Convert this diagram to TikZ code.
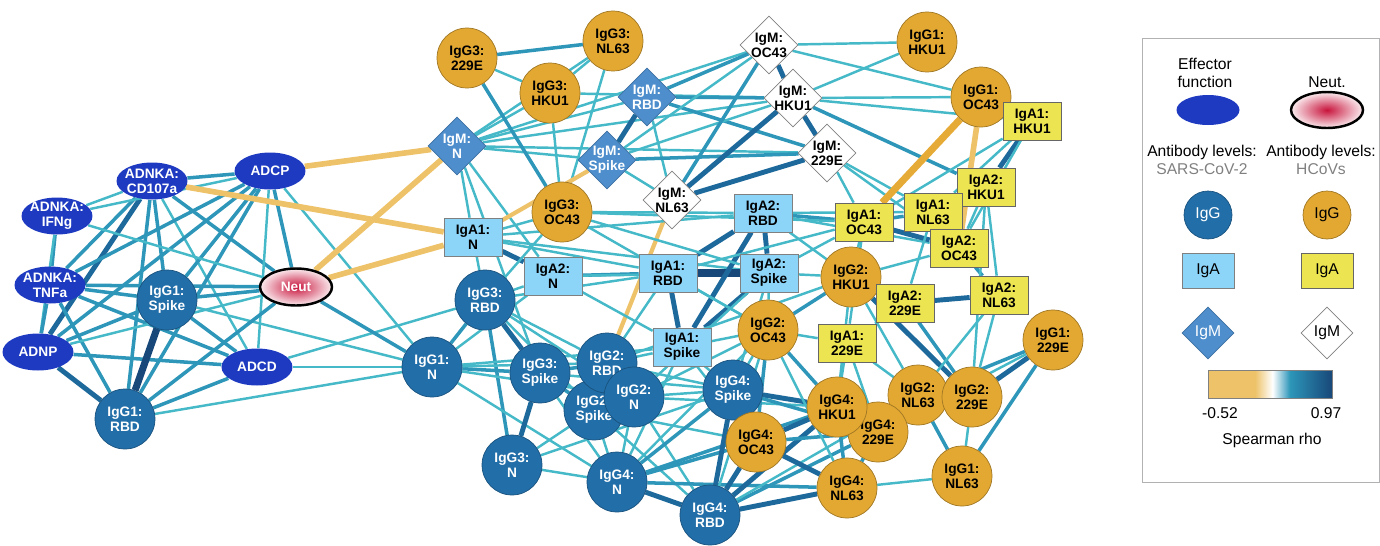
\documentclass[tikz,border=0pt]{standalone}
\usepackage{fontspec}
\setmainfont{Liberation Sans}
\usepackage{xcolor}
\definecolor{effblue}{RGB}{30,58,192}
\definecolor{sarsG}{RGB}{34,110,168}
\definecolor{sarsA}{RGB}{140,212,248}
\definecolor{sarsM}{RGB}{78,142,204}
\definecolor{hcovG}{RGB}{227,168,50}
\definecolor{hcovA}{RGB}{236,228,80}
\definecolor{neutred}{RGB}{200,20,60}
\definecolor{tealA}{RGB}{70,185,200}
\definecolor{tealB}{RGB}{45,150,185}
\definecolor{tealC}{RGB}{30,105,155}
\definecolor{tealD}{RGB}{24,72,122}
\definecolor{negA}{RGB}{237,194,105}
\definecolor{negB}{RGB}{230,170,55}
\usepackage{tikz}
\usetikzlibrary{
    shapes.geometric,
    arrows.meta,
    positioning,
    backgrounds
}
\pgfdeclarehorizontalshading{rhobar}{100bp}{color(0bp)=(negA); color(25bp)=(negA); color(44bp)=(negA); color(51bp)=(white); color(58bp)=(tealB); color(75bp)=(tealD); color(100bp)=(tealD)}

\begin{document}
\begin{tikzpicture}[x=0.02cm, y=-0.02cm,
        lbl/.style={font=\bfseries\fontsize{7.8}{8.6}\selectfont, align=center},
        eff/.style={lbl, ellipse, fill=effblue, text=white, inner sep=-2pt, minimum width=1.42cm, minimum height=0.74cm},
        neutn/.style={lbl, ellipse, draw=black, line width=1.4pt, inner color=neutred, outer color=neutred!8, text=white, inner sep=-2pt, minimum width=1.44cm, minimum height=0.74cm},
        sg/.style={lbl, circle, fill=sarsG, draw=sarsG!75!black, text=white, inner sep=0pt, minimum size=1.2cm},
        hg/.style={lbl, circle, fill=hcovG, draw=hcovG!70!black, inner sep=0pt, minimum size=1.2cm},
        sa/.style={lbl, rectangle, fill=sarsA, draw=gray, inner sep=1pt, minimum width=1.16cm, minimum height=0.76cm},
        ha/.style={lbl, rectangle, fill=hcovA, draw=gray!80!black, inner sep=1pt, minimum width=1.16cm, minimum height=0.76cm},
        sm/.style={lbl, diamond, aspect=1, fill=sarsM, draw=sarsM!80!black, text=white, inner sep=-1.2pt, minimum size=1.16cm},
        hm/.style={lbl, diamond, aspect=1, fill=white, draw=gray, inner sep=-1.2pt, minimum size=1.16cm},
        leg/.style={font=\fontsize{8.9}{10.2}\selectfont, align=center},
        ta/.style={line width=1.4pt, tealA},
        tb/.style={line width=2pt, tealB},
        tc/.style={line width=2.8pt, tealC},
        td/.style={line width=4pt, tealD},
        ng/.style={line width=3.2pt, negA},
        nh/.style={line width=4pt, negB}
    ]
        \useasboundingbox (0,0) rectangle (1380,545);

        % effector functions
        \node[eff] (cd107a) at (152,181) {ADNKA:\\CD107a};
        \node[eff] (adcp) at (270,171) {ADCP};
        \node[eff] (ifng) at (57,216) {ADNKA:\\IFNg};
        \node[eff] (tnfa) at (50,285) {ADNKA:\\TNFa};
        \node[eff] (adnp) at (38,352) {ADNP};
        \node[eff] (adcd) at (257,367) {ADCD};
        \node[neutn] (neut) at (296,287) {Neut};

        % SARS-CoV-2 antibodies
        \node[sg] (g1spike) at (167,300) {IgG1:\\Spike};
        \node[sg] (g1rbd) at (125,419) {IgG1:\\RBD};
        \node[sg] (g1n) at (432,367) {IgG1:\\N};
        \node[sg] (g3rbd) at (485,300) {IgG3:\\RBD};
        \node[sg] (g3spike) at (540,373) {IgG3:\\Spike};
        \node[sg] (g3n) at (512,465) {IgG3:\\N};
        \node[sg] (g2spike) at (594,410) {IgG2:\\Spike};
        \node[sg] (g2rbd) at (607,363) {IgG2:\\RBD};
        \node[sg] (g2n) at (634,397) {IgG2:\\N};
        \node[sg] (g4spike) at (733,390) {IgG4:\\Spike};
        \node[sg] (g4n) at (617,482) {IgG4:\\N};
        \node[sg] (g4rbd) at (710,515) {IgG4:\\RBD};
        \node[sa] (a1n) at (473,237) {IgA1:\\N};
        \node[sa] (a2n) at (553,276) {IgA2:\\N};
        \node[sa] (a1rbd) at (668,273) {IgA1:\\RBD};
        \node[sa] (a2rbd) at (763,213) {IgA2:\\RBD};
        \node[sa] (a2spike) at (769,273) {IgA2:\\Spike};
        \node[sa] (a1spike) at (682,347) {IgA1:\\Spike};
        \node[sm] (mn) at (457,146) {IgM:\\N};
        \node[sm] (mrbd) at (647,97) {IgM:\\RBD};
        \node[sm] (mspike) at (607,160) {IgM:\\Spike};

        % HCoV antibodies
        \node[hg] (g3-229e) at (467,58) {IgG3:\\229E};
        \node[hg] (g3nl63) at (613,41) {IgG3:\\NL63};
        \node[hg] (g3hku1) at (550,93) {IgG3:\\HKU1};
        \node[hg] (g3oc43) at (562,212) {IgG3:\\OC43};
        \node[hg] (g1hku1) at (927,42) {IgG1:\\HKU1};
        \node[hg] (g1oc43) at (981,97) {IgG1:\\OC43};
        \node[hg] (g2hku1) at (851,277) {IgG2:\\HKU1};
        \node[hg] (g2oc43) at (768,330) {IgG2:\\OC43};
        \node[hg] (g1-229e) at (1053,340) {IgG1:\\229E};
        \node[hg] (g2nl63) at (918,395) {IgG2:\\NL63};
        \node[hg] (g2-229e) at (972,397) {IgG2:\\229E};
        \node[hg] (g4-229e) at (878,432) {IgG4:\\229E};
        \node[hg] (g4hku1) at (837,407) {IgG4:\\HKU1};
        \node[hg] (g4nl63) at (847,488) {IgG4:\\NL63};
        \node[hg] (g1nl63) at (962,476) {IgG1:\\NL63};
        \node[hg] (g4oc43) at (756,442) {IgG4:\\OC43};
        \node[ha] (a1hku1) at (1032,121) {IgA1:\\HKU1};
        \node[ha] (a2hku1) at (986,187) {IgA2:\\HKU1};
        \node[ha] (a1nl63) at (933,212) {IgA1:\\NL63};
        \node[ha] (a1oc43) at (864,222) {IgA1:\\OC43};
        \node[ha] (a2oc43) at (959,248) {IgA2:\\OC43};
        \node[ha] (a2-229e) at (905,303) {IgA2:\\229E};
        \node[ha] (a2nl63) at (999,295) {IgA2:\\NL63};
        \node[ha] (a1-229e) at (847,343) {IgA1:\\229E};
        \node[hm] (moc43) at (769,45) {IgM:\\OC43};
        \node[hm] (mhku1) at (793,98) {IgM:\\HKU1};
        \node[hm] (m229e) at (827,153) {IgM:\\229E};
        \node[hm] (mnl63) at (672,200) {IgM:\\NL63};

        % legend
        \node[draw=gray!60, minimum width=4.74cm, minimum height=8.88cm] (legbox) at (1260.5,260) {};
        \node[leg] (leffect) at (1205,73) {Effector\\function};
        \node[leg] (lneuttxt) at (1327,82) {Neut.};
        \node[ellipse, fill=effblue, minimum width=1.26cm, minimum height=0.6cm] (leff) at (1208,110) {};
        \node[ellipse, draw=black, line width=1.4pt, inner color=neutred, outer color=neutred!8, minimum width=1.44cm, minimum height=0.72cm] (lneut) at (1327,110) {};
        \node[leg] (lsars) at (1202,160) {Antibody levels:\\\textcolor{gray}{SARS-CoV-2}};
        \node[leg] (lhcov) at (1321,160) {Antibody levels:\\\textcolor{gray}{HCoVs}};
        \node[leg, circle, fill=sarsG, draw=sarsG!75!black, text=white, minimum size=0.96cm, inner sep=0pt] (lsg) at (1208,215) {IgG};
        \node[leg, circle, fill=hcovG, draw=hcovG!70!black, minimum size=0.96cm, inner sep=0pt] (lhg) at (1327,215) {IgG};
        \node[leg, fill=sarsA, draw=gray, minimum width=1.04cm, minimum height=0.7cm] (lsa) at (1208,271) {IgA};
        \node[leg, fill=hcovA, draw=gray!80!black, minimum width=1.04cm, minimum height=0.7cm] (lha) at (1327,271) {IgA};
        \node[leg, diamond, aspect=1, fill=sarsM, draw=sarsM!80!black, text=white, minimum size=1.04cm, inner sep=0pt] (lsm) at (1208,333) {IgM};
        \node[leg, diamond, aspect=1, fill=white, draw=gray, minimum size=1.04cm, inner sep=0pt] (lhm) at (1327,333) {IgM};
        \node[draw=gray, shading=rhobar, minimum width=2.48cm, minimum height=0.56cm, inner sep=0pt] (cbar) at (1270,384) {};
        \node[leg] (lmin) at (1220,413) {-0.52};
        \node[leg] (lmax) at (1326,413) {0.97};
        \node[leg] (lrho) at (1272,440) {Spearman rho};

        \begin{scope}[on background layer]
        % effector cluster
        \draw[tb] (cd107a) -- (adcp);
        \draw[ta] (cd107a) -- (ifng);
        \draw[tb] (cd107a) -- (tnfa);
        \draw[tc] (cd107a) -- (adnp);
        \draw[tb] (cd107a) -- (g1spike);
        \draw[tb] (cd107a) -- (g1rbd);
        \draw[tb] (cd107a) -- (neut);
        \draw[ta] (cd107a) -- (adcd);
        \draw[ta] (adcp) -- (ifng);
        \draw[tb] (adcp) -- (tnfa);
        \draw[tb] (adcp) -- (adnp);
        \draw[tb] (adcp) -- (g1spike);
        \draw[tb] (adcp) -- (g1rbd);
        \draw[ta] (adcp) -- (adcd);
        \draw[tb] (adcp) -- (neut);
        \draw[ta] (adcp) -- (g1n);
        \draw[tb] (ifng) -- (tnfa);
        \draw[ta] (ifng) -- (neut);
        \draw[ta] (ifng) -- (adnp);
        \draw[tb] (tnfa) -- (neut);
        \draw[tb] (tnfa) -- (g1spike);
        \draw[tb] (tnfa) -- (adnp);
        \draw[tb] (tnfa) -- (g1rbd);
        \draw[tb] (tnfa) -- (adcd);
        \draw[tb] (adnp) -- (g1spike);
        \draw[tc] (adnp) -- (g1rbd);
        \draw[tb] (adnp) -- (adcd);
        \draw[ta] (adnp) -- (neut);
        \draw[td] (g1spike) -- (g1rbd);
        \draw[tb] (g1spike) -- (neut);
        \draw[tb] (g1spike) -- (adcd);
        \draw[ta] (g1spike) -- (g1n);
        \draw[tb] (g1rbd) -- (neut);
        \draw[tb] (g1rbd) -- (adcd);
        \draw[ta] (g1rbd) -- (g1n);
        \draw[ta] (adcd) -- (g3rbd);
        \draw[tb] (neut) -- (g1n);
        \draw[ng] (adcp) -- (mn);
        \draw[ng] (cd107a) -- (a1n);
        \draw[ng] (neut) -- (mn);
        \draw[ng] (neut) -- (a1n);

        % IgM and IgG3
        \draw[ta] (mn) -- (a1n);
        \draw[ta] (mn) -- (a2n);
        \draw[ta] (mn) -- (g3spike);
        \draw[ta] (mn) -- (g3hku1);
        \draw[ta] (mn) -- (g3nl63);
        \draw[ta] (mn) -- (mrbd);
        \draw[ta] (mn) -- (moc43);
        \draw[ta] (mn) -- (mhku1);
        \draw[ta] (mn) -- (m229e);
        \draw[ta] (mn) -- (mspike);
        \draw[tb] (g3-229e) -- (g3nl63);
        \draw[ta] (g3-229e) -- (g3hku1);
        \draw[tb] (g3-229e) -- (g3oc43);
        \draw[ta] (g3nl63) -- (g3hku1);
        \draw[ta] (g3nl63) -- (g3oc43);
        \draw[ta] (g3hku1) -- (g3oc43);
        \draw[ta] (g3hku1) -- (mhku1);
        \draw[tc] (mrbd) -- (mspike);
        \draw[tb] (mrbd) -- (moc43);
        \draw[tb] (mrbd) -- (mhku1);
        \draw[tb] (mrbd) -- (m229e);
        \draw[ta] (mrbd) -- (mnl63);
        \draw[tb] (mspike) -- (m229e);
        \draw[ta] (mspike) -- (mhku1);
        \draw[ta] (mspike) -- (mnl63);
        \draw[ta] (mspike) -- (moc43);
        \draw[ng, line width=2.4pt] (mspike) -- (a1n);
        \draw[tc] (moc43) -- (mhku1);
        \draw[tb] (moc43) -- (mnl63);
        \draw[ta] (moc43) -- (g1hku1);
        \draw[ta] (moc43) -- (g1oc43);
        \draw[tc] (mhku1) -- (mnl63);
        \draw[tc] (mhku1) -- (m229e);
        \draw[ta] (mhku1) -- (g1hku1);
        \draw[ta] (mhku1) -- (g1oc43);
        \draw[ta] (mhku1) -- (a1hku1);
        \draw[tb] (mhku1) -- (a2hku1);
        \draw[tc] (m229e) -- (mnl63);
        \draw[ta] (m229e) -- (a1oc43);
        \draw[ta] (m229e) -- (a1nl63);
        \draw[ta] (m229e) -- (a2oc43);
        \draw[ng, line width=2.4pt] (mnl63) -- (g2rbd);

        % IgA
        \draw[tc] (a1n) -- (a2n);
        \draw[ta] (a1n) -- (g3oc43);
        \draw[ta] (a1n) -- (a1rbd);
        \draw[ta] (a1n) -- (a2rbd);
        \draw[ta] (a1n) -- (a2spike);
        \draw[ta] (a1n) -- (g3rbd);
        \draw[tb] (a2n) -- (a1rbd);
        \draw[ta] (a2n) -- (a2spike);
        \draw[ta] (a2n) -- (g3rbd);
        \draw[ta] (a2n) -- (a1spike);
        \draw[tc] (a1rbd) -- (a2rbd);
        \draw[td] (a1rbd) -- (a2spike);
        \draw[tc] (a1rbd) -- (a1spike);
        \draw[tc] (a2rbd) -- (a2spike);
        \draw[tc] (a2rbd) -- (a1spike);
        \draw[tc] (a2spike) -- (a1spike);
        \draw[tb] (a2rbd) -- (a1oc43);
        \draw[ta] (a2rbd) -- (a1nl63);
        \draw[ta] (a2rbd) -- (a2oc43);
        \draw[ta] (a2rbd) -- (g2hku1);
        \draw[ta] (g3oc43) -- (a2spike);
        \draw[ta] (g3oc43) -- (g2oc43);
        \draw[ta] (g3oc43) -- (a2rbd);
        \draw[ta] (g3oc43) -- (a1oc43);
        \draw[ta] (g3oc43) -- (g3rbd);
        \draw[tc] (a1hku1) -- (a2hku1);
        \draw[tc] (a1oc43) -- (a2oc43);
        \draw[tb] (a1oc43) -- (a1nl63);
        \draw[ta] (a1nl63) -- (a2oc43);
        \draw[ta] (a2hku1) -- (a2oc43);
        \draw[tb] (a2oc43) -- (a2nl63);
        \draw[tc] (a2-229e) -- (a2nl63);
        \draw[ta] (a2-229e) -- (a1-229e);
        \draw[ta] (a2hku1) -- (a2nl63);
        \draw[ta] (a1hku1) -- (a1oc43);
        \draw[ta] (a1hku1) -- (a1nl63);
        \draw[ta] (a1hku1) -- (a2oc43);
        \draw[ta] (a2hku1) -- (g2-229e);
        \draw[nh] (g1oc43) -- (a1oc43);
        \draw[ng] (g1oc43) -- (a2oc43);

        % IgG
        \draw[tc] (g3rbd) -- (g3spike);
        \draw[tb] (g3rbd) -- (g3n);
        \draw[tb] (g3rbd) -- (g1n);
        \draw[ta] (g3rbd) -- (g2rbd);
        \draw[ta] (g3rbd) -- (g2spike);
        \draw[ta] (g3rbd) -- (g2n);
        \draw[ta] (g3rbd) -- (a1rbd);
        \draw[tb] (g1n) -- (g3spike);
        \draw[ta] (g1n) -- (g2rbd);
        \draw[ta] (g1n) -- (g2n);
        \draw[ta] (g1n) -- (a1spike);
        \draw[ta] (g1n) -- (g4n);
        \draw[ta] (g1n) -- (a2n);
        \draw[ta] (g1n) -- (adcd);
        \draw[tc] (g3spike) -- (g3n);
        \draw[tb] (g3spike) -- (g2spike);
        \draw[tb] (g3spike) -- (g2rbd);
        \draw[ta] (g3spike) -- (g4n);
        \draw[ta] (g3spike) -- (g4spike);
        \draw[ta] (g3n) -- (g4n);
        \draw[ta] (g3n) -- (g2spike);
        \draw[ta] (g3n) -- (g4spike);
        \draw[tb] (g2rbd) -- (g2spike);
        \draw[tb] (g2rbd) -- (g2n);
        \draw[ta] (g2rbd) -- (a1spike);
        \draw[ta] (g2rbd) -- (a1rbd);
        \draw[ta] (g2rbd) -- (g4spike);
        \draw[ta] (g2rbd) -- (g2hku1);
        \draw[tb] (g2spike) -- (g2n);
        \draw[ta] (g2spike) -- (g4n);
        \draw[ta] (g2spike) -- (g4rbd);
        \draw[ta] (g2spike) -- (g4oc43);
        \draw[ta] (g2n) -- (g4n);
        \draw[ta] (g2n) -- (g4spike);
        \draw[ta] (g2n) -- (g4rbd);
        \draw[ta] (g2n) -- (a2spike);
        \draw[ta] (g2n) -- (g4hku1);
        \draw[ta] (g2n) -- (g2oc43);
        \draw[tc] (g4n) -- (g4rbd);
        \draw[tb] (g4n) -- (g4spike);
        \draw[tb] (g4n) -- (g4oc43);
        \draw[tb] (g4n) -- (g4hku1);
        \draw[tb] (g4n) -- (g4nl63);
        \draw[ta] (g4n) -- (g2oc43);
        \draw[ta] (g4n) -- (a1spike);
        \draw[tc] (g4rbd) -- (g4spike);
        \draw[tc] (g4rbd) -- (g4oc43);
        \draw[tc] (g4rbd) -- (g4hku1);
        \draw[tc] (g4rbd) -- (g4nl63);
        \draw[tb] (g4rbd) -- (g4-229e);
        \draw[ta] (g4rbd) -- (g2oc43);
        \draw[ta] (g4rbd) -- (g2nl63);
        \draw[tc] (g4spike) -- (g4hku1);
        \draw[tb] (g4spike) -- (g4oc43);
        \draw[tb] (g4spike) -- (g4-229e);
        \draw[ta] (g4spike) -- (a1spike);
        \draw[ta] (g4spike) -- (g2oc43);
        \draw[ta] (g4spike) -- (a2spike);
        \draw[tc] (g4oc43) -- (g4hku1);
        \draw[tc] (g4oc43) -- (g4nl63);
        \draw[tb] (g4oc43) -- (g4-229e);
        \draw[tb] (g4hku1) -- (g4nl63);
        \draw[tb] (g4hku1) -- (g4-229e);
        \draw[tb] (g4-229e) -- (g4nl63);
        \draw[ta] (g4nl63) -- (g1nl63);
        \draw[tb] (g2nl63) -- (g2-229e);
        \draw[tb] (g2nl63) -- (g1nl63);
        \draw[ta] (g2-229e) -- (g1nl63);
        \draw[tc] (g2-229e) -- (g1-229e);
        \draw[tb] (g1-229e) -- (g1nl63);
        \draw[tb] (g1-229e) -- (g2nl63);
        \draw[ta] (g1-229e) -- (g4-229e);
        \draw[tb] (g2hku1) -- (g2oc43);
        \draw[tb] (g2hku1) -- (a2-229e);
        \draw[ta] (g2hku1) -- (g2nl63);
        \draw[tc] (g2hku1) -- (g2-229e);
        \draw[ta] (g2hku1) -- (g4hku1);
        \draw[ta] (g2hku1) -- (a1oc43);
        \draw[ta] (g2hku1) -- (a2spike);
        \draw[ta] (g2hku1) -- (a2oc43);
        \draw[tb] (g2oc43) -- (g4oc43);
        \draw[tb] (g2oc43) -- (g4hku1);
        \draw[ta] (g2oc43) -- (a1-229e);
        \draw[ta] (g2oc43) -- (a2spike);
        \draw[ta] (g2oc43) -- (g4nl63);
        \draw[ta] (g2oc43) -- (a1spike);
        \draw[ta] (g2oc43) -- (a1rbd);
        \draw[tb] (a2-229e) -- (g2-229e);
        \draw[ta] (a2nl63) -- (g2-229e);
        \draw[ta] (a2nl63) -- (g2nl63);
        \draw[ta] (a1-229e) -- (g4hku1);
        \draw[ta] (a1-229e) -- (g2nl63);
        \draw[ta] (a1-229e) -- (g4-229e);
        \draw[ta] (a1-229e) -- (a1oc43);
        \draw[ta] (a1nl63) -- (a2-229e);
        \draw[ta] (a1spike) -- (g4oc43);
        \draw[ta] (a2spike) -- (a1oc43);
        \draw[ta] (a1rbd) -- (a1oc43);
        \end{scope}
    \end{tikzpicture}
\end{document}
